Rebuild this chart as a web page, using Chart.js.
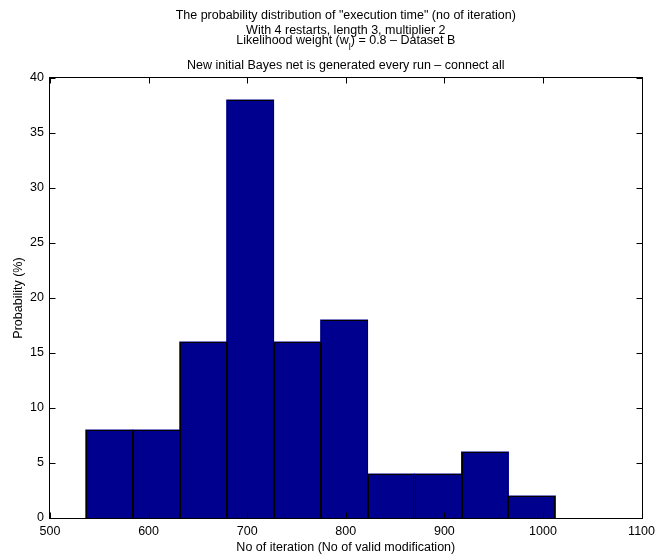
<!DOCTYPE html>
<html>
<head>
<meta charset="utf-8">
<script src="https://cdn.jsdelivr.net/npm/chart.js@4/dist/chart.umd.min.js"></script>
<style>
  html, body { margin: 0; padding: 0; background: #fff; }
  canvas { display: block; }
</style>
</head>
<body>
<canvas id="hist" width="661" height="559"></canvas>
<script>
// Histogram bins (centre of each bin, iterations) and probability per bin (%)
const binCenters = [560.1, 607.8, 655.4, 703.0, 750.7, 798.3, 845.9, 893.6, 941.2, 988.8];
const probability = [8, 8, 16, 38, 16, 18, 4, 4, 6, 2];
const xTicks = [500, 600, 700, 800, 900, 1000, 1100];
const yTicks = [0, 5, 10, 15, 20, 25, 30, 35, 40];

const titleLines = [
  'The probability distribution of "execution time" (no of iteration)',
  'With 4 restarts, length 3, multiplier 2',
  null, // likelihood line, drawn with a subscript
  'New initial Bayes net is generated every run \u2013 connect all'
];
const xTitle = 'No of iteration (No of valid modification)';
const yTitle = 'Probability (%)';

const FONT_FAMILY = '"Liberation Sans", Arial, Helvetica, sans-serif';
const TEXT_SIZE = 12.5;
const font = (s) => s + 'px ' + FONT_FAMILY;

// Crisp one-pixel outlines around every bar, taken from the bar elements
// laid out by Chart.js; shared edges collapse into a single line.
const barOutline = {
  id: 'barOutline',
  afterDatasetsDraw(chart) {
    const { ctx } = chart;
    ctx.save();
    ctx.strokeStyle = '#000';
    ctx.lineWidth = 1;
    chart.getDatasetMeta(0).data.forEach(bar => {
      const p = bar.getProps(['x', 'y', 'base', 'width'], true);
      const l = Math.round(p.x - p.width / 2) + 0.5;
      const r = Math.round(p.x + p.width / 2) - 0.5;
      const t = Math.round(p.y) + 0.5;
      const b = Math.round(p.base);
      ctx.beginPath();
      ctx.moveTo(l, b); ctx.lineTo(l, t); ctx.lineTo(r, t); ctx.lineTo(r, b);
      ctx.stroke();
    });
    ctx.restore();
  }
};

const frame = {
  id: 'frame',
  afterDatasetsDraw(chart) {
    const { ctx, chartArea: a, scales } = chart;
    const L = Math.round(a.left) - 0.5, R = Math.round(a.right) + 0.5;
    const T = Math.round(a.top) - 0.5, B = Math.round(a.bottom) + 0.5;
    ctx.save();
    ctx.strokeStyle = '#000';
    ctx.lineWidth = 1;
    ctx.strokeRect(L, T, R - L, B - T);
    const tl = 6;
    ctx.beginPath();
    xTicks.forEach(v => {
      const x = Math.round(scales.x.getPixelForValue(v)) + 0.5;
      ctx.moveTo(x, B); ctx.lineTo(x, B - tl);
      ctx.moveTo(x, T); ctx.lineTo(x, T + tl);
    });
    yTicks.forEach(v => {
      const y = Math.round(scales.y.getPixelForValue(v)) + 0.5;
      ctx.moveTo(L, y); ctx.lineTo(L + tl, y);
      ctx.moveTo(R, y); ctx.lineTo(R - tl, y);
    });
    ctx.stroke();
    ctx.restore();
  },
  afterDraw(chart) {
    const { ctx, chartArea: a } = chart;
    const cx = (a.left + a.right) / 2;
    ctx.save();
    ctx.fillStyle = '#000';
    ctx.textBaseline = 'alphabetic';
    ctx.font = font(TEXT_SIZE);
    ctx.textAlign = 'center';
    ctx.fillText(titleLines[0], cx, 18.5);
    ctx.fillText(titleLines[1], cx, 33.5);
    ctx.fillText(titleLines[3], cx, 68.5);

    // "Likelihood weight (w_l) = 0.8 – Dataset B"
    const p1 = 'Likelihood weight (w', sub = 'l', p2 = ') = 0.8 \u2013 Dataset B';
    const subSize = 9;
    ctx.font = font(TEXT_SIZE);
    const w1 = ctx.measureText(p1).width, w2 = ctx.measureText(p2).width;
    ctx.font = font(subSize);
    const ws = ctx.measureText(sub).width;
    let x = cx - (w1 + ws + w2) / 2;
    ctx.textAlign = 'left';
    ctx.font = font(TEXT_SIZE);
    ctx.fillText(p1, x, 44);
    x += w1;
    ctx.font = font(subSize);
    ctx.fillText(sub, x, 49.5);
    x += ws;
    ctx.font = font(TEXT_SIZE);
    ctx.fillText(p2, x, 44);

    // axis titles
    ctx.textAlign = 'center';
    ctx.font = font(TEXT_SIZE);
    ctx.fillText(xTitle, cx, 551);
    ctx.save();
    ctx.translate(22, (a.top + a.bottom) / 2);
    ctx.rotate(-Math.PI / 2);
    ctx.fillText(yTitle, 0, 0);
    ctx.restore();
    ctx.restore();
  }
};

new Chart(document.getElementById('hist'), {
  type: 'bar',
  data: {
    datasets: [{
      data: binCenters.map((c, i) => ({ x: c, y: probability[i] })),
      backgroundColor: '#00008f',
      borderWidth: 0,
      inflateAmount: 0.5,
      barPercentage: 1,
      categoryPercentage: 1
    }]
  },
  options: {
    responsive: false,
    animation: false,
    devicePixelRatio: 1,
    layout: { padding: { top: 78, right: 17, left: 0, bottom: 0 } },
    plugins: { legend: { display: false }, tooltip: { enabled: false }, title: { display: false } },
    scales: {
      x: {
        type: 'linear',
        offset: false,
        min: 500, max: 1100,
        afterBuildTicks: s => { s.ticks = xTicks.map(v => ({ value: v })); },
        afterFit: s => { s.height = 41; },
        ticks: {
          color: '#000', font: { family: FONT_FAMILY, size: TEXT_SIZE }, padding: 6,
          maxRotation: 0, autoSkip: false, callback: v => String(v)
        },
        grid: { display: false, drawTicks: false },
        border: { display: false }
      },
      y: {
        min: 0, max: 40,
        afterBuildTicks: s => { s.ticks = yTicks.map(v => ({ value: v })); },
        afterFit: s => { s.width = 50; },
        ticks: { color: '#000', font: { family: FONT_FAMILY, size: TEXT_SIZE }, padding: 6, callback: v => String(v) },
        grid: { display: false, drawTicks: false },
        border: { display: false }
      }
    }
  },
  plugins: [barOutline, frame]
});
</script>
</body>
</html>
